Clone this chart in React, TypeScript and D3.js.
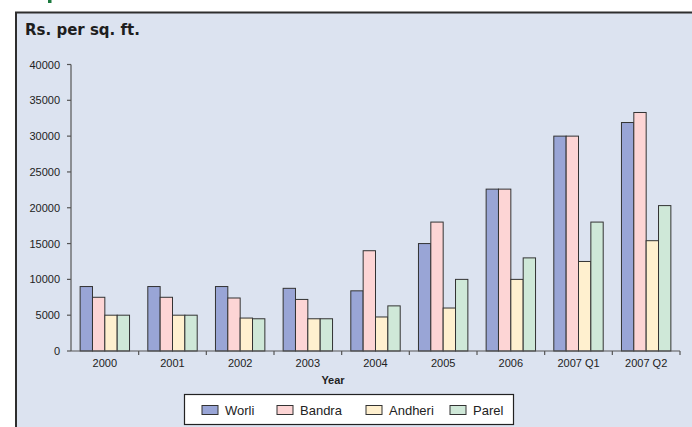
import React from "react";
import * as d3 from "d3";

// Residential property rates by locality (Rs. per sq. ft.)
const categories = ["2000", "2001", "2002", "2003", "2004", "2005", "2006", "2007 Q1", "2007 Q2"];
const seriesNames = ["Worli", "Bandra", "Andheri", "Parel"];
const worli = [9000, 9000, 9000, 8750, 8400, 15000, 22600, 30000, 31900];
const bandra = [7500, 7500, 7400, 7200, 14000, 18000, 22600, 30000, 33300];
const andheri = [5000, 5000, 4600, 4500, 4750, 6000, 10000, 12500, 15400];
const parel = [5000, 5000, 4500, 4500, 6300, 10000, 13000, 18000, 20300];
const yTicks = [0, 5000, 10000, 15000, 20000, 25000, 30000, 35000, 40000];
const colors = ["#99a5d6", "#fdd5d5", "#fff0cf", "#cfe8d8"];

const W = 692;
const H = 427;
const plot = { left: 71, right: 680, top: 64.5, bottom: 351 };
const font = "'Liberation Sans', Arial, sans-serif";

export default function App() {
  const values = [worli, bandra, andheri, parel];
  const x0 = d3.scaleBand<string>().domain(categories).range([plot.left, plot.right]).padding(0);
  const x1 = d3
    .scaleBand<string>()
    .domain(seriesNames)
    .range([0, x0.bandwidth()])
    .paddingInner(0)
    .paddingOuter(0.74);
  const y = d3.scaleLinear().domain([0, 40000]).range([plot.bottom, plot.top]);

  const legendItems = [
    { name: "Worli", x: 202 },
    { name: "Bandra", x: 277 },
    { name: "Andheri", x: 366 },
    { name: "Parel", x: 450 },
  ];

  return (
    <svg
      width={W}
      height={H}
      style={{ position: "fixed", left: 0, top: 0, display: "block" }}
      fontFamily={font}
    >
      <rect x={0} y={0} width={W} height={H} fill="#ffffff" />
      <rect x={48} y={0} width={3.5} height={3} fill="#1b7a3e" />
      {/* chart frame */}
      <rect x={16} y={12.5} width={W + 10} height={H + 10} fill="#dce3f0" stroke="#2e2e2e" strokeWidth={2} />
      <text x={25} y={35} fontFamily="'DejaVu Sans', sans-serif" fontWeight="bold" fontSize={15} fill="#1e1e1e">
        Rs. per sq. ft.
      </text>

      {/* y axis */}
      <line x1={plot.left} x2={plot.left} y1={y(40000)} y2={y(0)} stroke="#555" strokeWidth={1.2} />
      {yTicks.map((t) => (
        <g key={t}>
          <line x1={plot.left - 4} x2={plot.left} y1={y(t)} y2={y(t)} stroke="#555" strokeWidth={1.2} />
          <text x={60} y={y(t) + 4} textAnchor="end" fontSize={11} fill="#222">
            {t}
          </text>
        </g>
      ))}

      {/* bars */}
      {categories.map((c, i) => (
        <g key={c} transform={`translate(${x0(c)},0)`}>
          {seriesNames.map((s, j) => (
            <rect
              key={s}
              x={x1(s)}
              y={y(values[j][i])}
              width={x1.bandwidth()}
              height={y(0) - y(values[j][i])}
              fill={colors[j]}
              stroke="#333"
              strokeWidth={1}
            />
          ))}
        </g>
      ))}

      {/* x axis */}
      <line x1={plot.left} x2={plot.right} y1={plot.bottom} y2={plot.bottom} stroke="#555" strokeWidth={1.2} />
      {categories.map((c, i) => (
        <line
          key={c}
          x1={(x0(c) as number) + x0.bandwidth()}
          x2={(x0(c) as number) + x0.bandwidth()}
          y1={plot.bottom}
          y2={plot.bottom + 4}
          stroke="#555"
          strokeWidth={1.2}
        />
      ))}
      {categories.map((c) => (
        <text
          key={c}
          x={(x0(c) as number) + x0.bandwidth() / 2}
          y={366.5}
          textAnchor="middle"
          fontSize={11}
          fill="#222"
        >
          {c}
        </text>
      ))}
      <text x={333} y={384} textAnchor="middle" fontSize={11} fontWeight="bold" fill="#222">
        Year
      </text>

      {/* legend */}
      <rect x={184.5} y={394.5} width={329} height={30} fill="#ffffff" stroke="#222" strokeWidth={1.2} />
      {legendItems.map((it, j) => (
        <g key={it.name}>
          <rect x={it.x} y={405.5} width={16} height={9} fill={colors[j]} stroke="#333" strokeWidth={1} />
          <text x={it.x + 23} y={414.5} fontSize={13} fill="#222">
            {it.name}
          </text>
        </g>
      ))}
    </svg>
  );
}
